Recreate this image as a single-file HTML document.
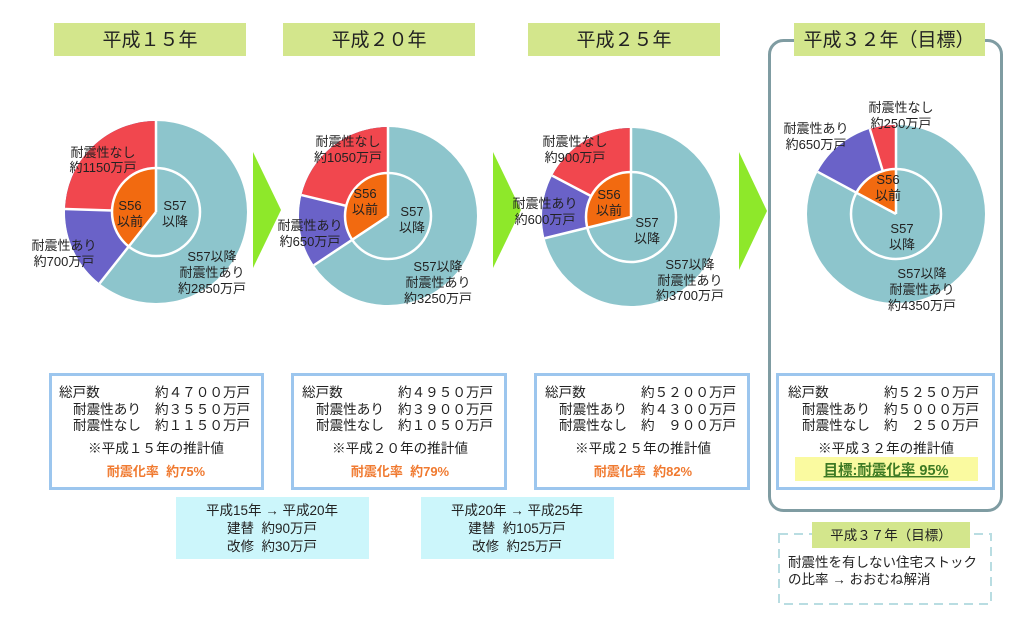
<!DOCTYPE html>
<html><head><meta charset="utf-8"><style>
body{margin:0;background:#fff;}
svg text{font-family:"Liberation Sans","Noto Sans CJK JP",sans-serif;fill:#222;white-space:pre;}
</style></head><body>
<svg width="1024" height="619" viewBox="0 0 1024 619" xmlns="http://www.w3.org/2000/svg">
<rect x="769.5" y="40.5" width="232" height="470" rx="14" fill="none" stroke="#7f9ca2" stroke-width="3"/>
<g fill="#d3e68c">
<rect x="54" y="23" width="192" height="33"/>
<rect x="283" y="23" width="192" height="33"/>
<rect x="528" y="23" width="192" height="33"/>
<rect x="794" y="23" width="191" height="33"/>
</g>
<g font-size="19" text-anchor="middle">
<text x="150" y="46">平成１５年</text>
<text x="379" y="46">平成２０年</text>
<text x="624" y="46">平成２５年</text>
<text x="889" y="46">平成３２年（目標）</text>
</g>
<g fill="#8ee82a">
<polygon points="253,152 281,210 253,268"/>
<polygon points="493,152 521,210 493,268"/>
<polygon points="739,152 767,211 739,270"/>
</g>

<g transform="translate(156,212)">
<circle r="91" fill="#8dc5cc"/>
<circle r="45.5" fill="none" stroke="#6a62c8" stroke-width="91" pathLength="100" stroke-dasharray="39.36 100" transform="scale(-1,1) rotate(-90)"/>
<circle r="45.5" fill="none" stroke="#f1474e" stroke-width="91" pathLength="100" stroke-dasharray="24.47 100" transform="scale(-1,1) rotate(-90)"/>
<circle r="44" fill="#8dc5cc"/>
<circle r="22" fill="none" stroke="#f26a10" stroke-width="44" pathLength="100" stroke-dasharray="39.36 100" transform="scale(-1,1) rotate(-90)"/>
<g stroke="#fff" stroke-width="2.5">
<line x1="0" y1="0" x2="0" y2="-91"/>
<line x1="0" y1="-44" x2="0" y2="-91" transform="rotate(-88.1)"/>
<line x1="0" y1="0" x2="0" y2="-91" transform="rotate(-141.7)"/>
</g>
<circle r="44" fill="none" stroke="#fff" stroke-width="2.5"/>
</g>
<g transform="translate(388,216)">
<circle r="89" fill="#8dc5cc"/>
<circle r="44.5" fill="none" stroke="#6a62c8" stroke-width="89" pathLength="100" stroke-dasharray="34.34 100" transform="scale(-1,1) rotate(-90)"/>
<circle r="44.5" fill="none" stroke="#f1474e" stroke-width="89" pathLength="100" stroke-dasharray="21.21 100" transform="scale(-1,1) rotate(-90)"/>
<circle r="43" fill="#8dc5cc"/>
<circle r="21.5" fill="none" stroke="#f26a10" stroke-width="43" pathLength="100" stroke-dasharray="34.34 100" transform="scale(-1,1) rotate(-90)"/>
<g stroke="#fff" stroke-width="2.5">
<line x1="0" y1="0" x2="0" y2="-89"/>
<line x1="0" y1="-43" x2="0" y2="-89" transform="rotate(-76.4)"/>
<line x1="0" y1="0" x2="0" y2="-89" transform="rotate(-123.6)"/>
</g>
<circle r="43" fill="none" stroke="#fff" stroke-width="2.5"/>
</g>
<g transform="translate(631,217)">
<circle r="89" fill="#8dc5cc"/>
<circle r="44.5" fill="none" stroke="#6a62c8" stroke-width="89" pathLength="100" stroke-dasharray="28.85 100" transform="scale(-1,1) rotate(-90)"/>
<circle r="44.5" fill="none" stroke="#f1474e" stroke-width="89" pathLength="100" stroke-dasharray="17.31 100" transform="scale(-1,1) rotate(-90)"/>
<circle r="45" fill="#8dc5cc"/>
<circle r="22.5" fill="none" stroke="#f26a10" stroke-width="45" pathLength="100" stroke-dasharray="28.85 100" transform="scale(-1,1) rotate(-90)"/>
<g stroke="#fff" stroke-width="2.5">
<line x1="0" y1="0" x2="0" y2="-89"/>
<line x1="0" y1="-45" x2="0" y2="-89" transform="rotate(-62.3)"/>
<line x1="0" y1="0" x2="0" y2="-89" transform="rotate(-103.8)"/>
</g>
<circle r="45" fill="none" stroke="#fff" stroke-width="2.5"/>
</g>
<g transform="translate(896,214)">
<circle r="89" fill="#8dc5cc"/>
<circle r="44.5" fill="none" stroke="#6a62c8" stroke-width="89" pathLength="100" stroke-dasharray="17.14 100" transform="scale(-1,1) rotate(-90)"/>
<circle r="44.5" fill="none" stroke="#f1474e" stroke-width="89" pathLength="100" stroke-dasharray="4.76 100" transform="scale(-1,1) rotate(-90)"/>
<circle r="45" fill="#8dc5cc"/>
<circle r="22.5" fill="none" stroke="#f26a10" stroke-width="45" pathLength="100" stroke-dasharray="17.14 100" transform="scale(-1,1) rotate(-90)"/>
<g stroke="#fff" stroke-width="2.5">
<line x1="0" y1="0" x2="0" y2="-89"/>
<line x1="0" y1="-45" x2="0" y2="-89" transform="rotate(-17.1)"/>
<line x1="0" y1="0" x2="0" y2="-89" transform="rotate(-61.7)"/>
</g>
<circle r="45" fill="none" stroke="#fff" stroke-width="2.5"/>
</g>

<g font-size="13" text-anchor="middle">
<text x="103" y="157">耐震性なし</text><text x="103" y="172">約1150万戸</text>
<text x="64" y="250">耐震性あり</text><text x="64" y="266">約700万戸</text>
<text x="130" y="210">S56</text><text x="130" y="226">以前</text>
<text x="175" y="210">S57</text><text x="175" y="226">以降</text>
<text x="212" y="261">S57以降</text><text x="212" y="277">耐震性あり</text><text x="212" y="293">約2850万戸</text>

<text x="348" y="146">耐震性なし</text><text x="348" y="162">約1050万戸</text>
<text x="310" y="230">耐震性あり</text><text x="310" y="246">約650万戸</text>
<text x="365" y="198">S56</text><text x="365" y="214">以前</text>
<text x="412" y="216">S57</text><text x="412" y="232">以降</text>
<text x="438" y="271">S57以降</text><text x="438" y="287">耐震性あり</text><text x="438" y="303">約3250万戸</text>

<text x="575" y="146">耐震性なし</text><text x="575" y="162">約900万戸</text>
<text x="545" y="208">耐震性あり</text><text x="545" y="224">約600万戸</text>
<text x="609" y="199">S56</text><text x="609" y="215">以前</text>
<text x="647" y="227">S57</text><text x="647" y="243">以降</text>
<text x="690" y="269">S57以降</text><text x="690" y="285">耐震性あり</text><text x="690" y="300">約3700万戸</text>

<text x="901" y="112">耐震性なし</text><text x="901" y="128">約250万戸</text>
<text x="816" y="133">耐震性あり</text><text x="816" y="149">約650万戸</text>
<text x="888" y="184">S56</text><text x="888" y="200">以前</text>
<text x="902" y="233">S57</text><text x="902" y="249">以降</text>
<text x="922" y="278">S57以降</text><text x="922" y="294">耐震性あり</text><text x="922" y="310">約4350万戸</text>
</g>

<g fill="#fff" stroke="#9cc6ee" stroke-width="3">
<rect x="50.5" y="374.5" width="212" height="114"/>
<rect x="292.5" y="374.5" width="213" height="114"/>
<rect x="535.5" y="374.5" width="213" height="114"/>
<rect x="777.5" y="374.5" width="216" height="114"/>
</g>
<rect x="795" y="457" width="183" height="24" fill="#fafaa0"/>
<g font-size="13.6">
<text x="59" y="397">総戸数</text><text x="155" y="397">約４７００万戸</text>
<text x="73" y="414">耐震性あり</text><text x="155" y="414">約３５５０万戸</text>
<text x="73" y="430">耐震性なし</text><text x="155" y="430">約１１５０万戸</text>
<text x="156" y="453" text-anchor="middle">※平成１５年の推計値</text>
<text x="156" y="476" text-anchor="middle" font-size="13" font-weight="bold" style="fill:#f07a30">耐震化率  約75%</text>

<text x="302" y="397">総戸数</text><text x="398" y="397">約４９５０万戸</text>
<text x="316" y="414">耐震性あり</text><text x="398" y="414">約３９００万戸</text>
<text x="316" y="430">耐震性なし</text><text x="398" y="430">約１０５０万戸</text>
<text x="400" y="453" text-anchor="middle">※平成２０年の推計値</text>
<text x="400" y="476" text-anchor="middle" font-size="13" font-weight="bold" style="fill:#f07a30">耐震化率  約79%</text>

<text x="545" y="397">総戸数</text><text x="641" y="397">約５２００万戸</text>
<text x="559" y="414">耐震性あり</text><text x="641" y="414">約４３００万戸</text>
<text x="559" y="430">耐震性なし</text><text x="641" y="430">約　９００万戸</text>
<text x="643" y="453" text-anchor="middle">※平成２５年の推計値</text>
<text x="643" y="476" text-anchor="middle" font-size="13" font-weight="bold" style="fill:#f07a30">耐震化率  約82%</text>

<text x="788" y="397">総戸数</text><text x="884" y="397">約５２５０万戸</text>
<text x="802" y="414">耐震性あり</text><text x="884" y="414">約５０００万戸</text>
<text x="802" y="430">耐震性なし</text><text x="884" y="430">約　２５０万戸</text>
<text x="886" y="453" text-anchor="middle">※平成３２年の推計値</text>
<text x="886" y="475" text-anchor="middle" font-size="14.5" font-weight="bold" text-decoration="underline" style="fill:#3d7a24">目標:耐震化率 95%</text>
</g>

<rect x="176" y="497" width="193" height="62" fill="#ccf6fb"/>
<rect x="421" y="497" width="193" height="62" fill="#ccf6fb"/>
<g font-size="13.5" text-anchor="middle">
<text x="272" y="515">平成15年 → 平成20年</text>
<text x="272" y="533">建替  約90万戸</text>
<text x="272" y="551">改修  約30万戸</text>
<text x="517" y="515">平成20年 → 平成25年</text>
<text x="517" y="533">建替  約105万戸</text>
<text x="517" y="551">改修  約25万戸</text>
</g>

<rect x="779" y="534" width="212" height="70" fill="none" stroke="#b9dde2" stroke-width="2" stroke-dasharray="9,6"/>
<rect x="812" y="522" width="158" height="26" fill="#d3e68c"/>
<text x="891" y="540" font-size="13.5" text-anchor="middle">平成３７年（目標）</text>
<text x="788" y="567" font-size="13.5">耐震性を有しない住宅ストック</text>
<text x="788" y="584" font-size="13.5">の比率 → おおむね解消</text>
</svg>
</body></html>
